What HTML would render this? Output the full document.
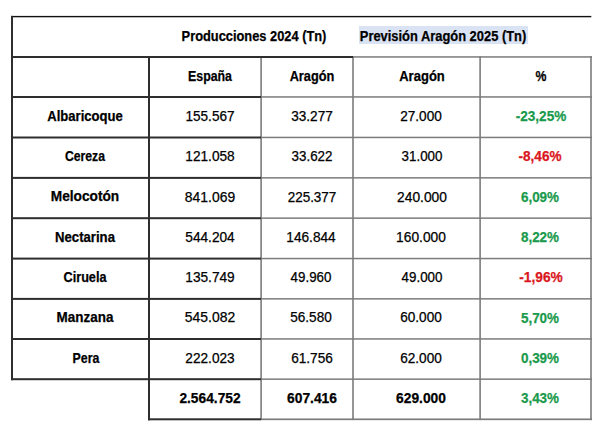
<!DOCTYPE html>
<html><head><meta charset="utf-8"><style>
html,body{margin:0;padding:0;background:#fff;}
#w{position:relative;width:600px;height:432px;overflow:hidden;background:#fff;font-family:"Liberation Sans",sans-serif;color:#000;}
svg{position:absolute;left:0;top:0;}
.t{position:absolute;width:300px;height:20px;line-height:20px;text-align:center;white-space:nowrap;-webkit-text-stroke:0.25px currentColor;transform-origin:50% 50%;}
</style></head><body><div id="w">
<svg width="600" height="432" viewBox="0 0 600 432">
<rect x="359" y="26" width="169" height="18" fill="#dae3f3"/>
<rect x="353" y="56.20" width="239.00" height="1.5" fill="#7c7c7c"/>
<rect x="261" y="96.20" width="331.00" height="1.5" fill="#7c7c7c"/>
<rect x="261" y="136.70" width="331.00" height="1.5" fill="#7c7c7c"/>
<rect x="261" y="177.10" width="331.00" height="1.5" fill="#7c7c7c"/>
<rect x="261" y="217.40" width="331.00" height="1.5" fill="#7c7c7c"/>
<rect x="261" y="257.80" width="331.00" height="1.5" fill="#7c7c7c"/>
<rect x="261" y="298.10" width="331.00" height="1.5" fill="#7c7c7c"/>
<rect x="261" y="338.20" width="331.00" height="1.5" fill="#7c7c7c"/>
<rect x="261" y="378.40" width="331.00" height="1.5" fill="#7c7c7c"/>
<rect x="261" y="418.45" width="331.00" height="1.7" fill="#7c7c7c"/>
<rect x="260.30" y="56.2" width="1.6" height="363.90" fill="#7c7c7c"/>
<rect x="352.20" y="56.2" width="1.6" height="363.90" fill="#7c7c7c"/>
<rect x="479.30" y="56.2" width="1.6" height="363.90" fill="#7c7c7c"/>
<rect x="590.20" y="56.2" width="1.6" height="363.90" fill="#7c7c7c"/>
<rect x="11" y="15.90" width="580.30" height="1.4" fill="#111"/>
<rect x="11.00" y="15.9" width="2" height="364.30" fill="#2e2e2e"/>
<rect x="11" y="56.00" width="342.00" height="2" fill="#2e2e2e"/>
<rect x="11" y="96.00" width="250.00" height="2" fill="#2e2e2e"/>
<rect x="11" y="136.50" width="250.00" height="2" fill="#2e2e2e"/>
<rect x="11" y="176.90" width="250.00" height="2" fill="#2e2e2e"/>
<rect x="11" y="217.20" width="250.00" height="2" fill="#2e2e2e"/>
<rect x="11" y="257.60" width="250.00" height="2" fill="#2e2e2e"/>
<rect x="11" y="297.90" width="250.00" height="2" fill="#2e2e2e"/>
<rect x="11" y="338.00" width="250.00" height="2" fill="#2e2e2e"/>
<rect x="11" y="378.20" width="250.00" height="2" fill="#2e2e2e"/>
<rect x="148" y="418.30" width="113.00" height="2" fill="#2e2e2e"/>
<rect x="148.00" y="56" width="2" height="364.30" fill="#2e2e2e"/>
</svg>
<div class="t" style="left:104.22px;top:26.15px;font-size:14.0px;font-weight:bold;transform:scaleX(0.9166);">Producciones 2024 (Tn)</div>
<div class="t" style="left:293.08px;top:25.75px;font-size:14.0px;font-weight:bold;transform:scaleX(0.9208);">Previsión Aragón 2025 (Tn)</div>
<div class="t" style="left:59.78px;top:65.85px;font-size:14.0px;font-weight:bold;transform:scaleX(0.8830);">España</div>
<div class="t" style="left:162.26px;top:65.85px;font-size:14.0px;font-weight:bold;transform:scaleX(0.9123);">Aragón</div>
<div class="t" style="left:271.56px;top:65.85px;font-size:14.0px;font-weight:bold;transform:scaleX(0.9299);">Aragón</div>
<div class="t" style="left:390.84px;top:65.85px;font-size:14.0px;font-weight:bold;transform:scaleX(0.8765);">%</div>
<div class="t" style="left:-65.10px;top:105.85px;font-size:14.0px;font-weight:bold;transform:scaleX(0.9322);">Albaricoque</div>
<div class="t" style="left:59.76px;top:105.98px;font-size:13.9px;transform:scaleX(0.9779);">155.567</div>
<div class="t" style="left:161.60px;top:105.98px;font-size:13.9px;transform:scaleX(0.9782);">33.277</div>
<div class="t" style="left:271.30px;top:105.98px;font-size:13.9px;transform:scaleX(0.9782);">27.000</div>
<div class="t" style="left:390.52px;top:106.08px;font-size:14.2px;font-weight:bold;color:#1a9a4c;transform:scaleX(0.9573);">-23,25%</div>
<div class="t" style="left:-65.34px;top:146.15px;font-size:14.0px;font-weight:bold;transform:scaleX(0.8708);">Cereza</div>
<div class="t" style="left:60.40px;top:146.28px;font-size:13.9px;transform:scaleX(0.9844);">121.058</div>
<div class="t" style="left:162.08px;top:146.28px;font-size:13.9px;transform:scaleX(0.9628);">33.622</div>
<div class="t" style="left:271.70px;top:146.28px;font-size:13.9px;transform:scaleX(0.9595);">31.000</div>
<div class="t" style="left:390.20px;top:146.38px;font-size:14.2px;font-weight:bold;color:#da1620;transform:scaleX(0.9567);">-8,46%</div>
<div class="t" style="left:-64.70px;top:186.45px;font-size:14.0px;font-weight:bold;transform:scaleX(0.9771);">Melocotón</div>
<div class="t" style="left:60.00px;top:186.58px;font-size:13.9px;transform:scaleX(1.0012);">841.069</div>
<div class="t" style="left:161.60px;top:186.58px;font-size:13.9px;transform:scaleX(0.9694);">225.377</div>
<div class="t" style="left:271.54px;top:186.58px;font-size:13.9px;transform:scaleX(0.9915);">240.000</div>
<div class="t" style="left:390.44px;top:186.68px;font-size:14.2px;font-weight:bold;color:#1a9a4c;transform:scaleX(0.9486);">6,09%</div>
<div class="t" style="left:-65.10px;top:226.75px;font-size:14.0px;font-weight:bold;transform:scaleX(0.9385);">Nectarina</div>
<div class="t" style="left:59.60px;top:226.88px;font-size:13.9px;transform:scaleX(0.9844);">544.204</div>
<div class="t" style="left:161.20px;top:226.88px;font-size:13.9px;transform:scaleX(0.9840);">146.844</div>
<div class="t" style="left:270.74px;top:226.88px;font-size:13.9px;transform:scaleX(0.9907);">160.000</div>
<div class="t" style="left:390.44px;top:226.98px;font-size:14.2px;font-weight:bold;color:#1a9a4c;transform:scaleX(0.9480);">8,22%</div>
<div class="t" style="left:-64.70px;top:267.05px;font-size:14.0px;font-weight:bold;transform:scaleX(0.9030);">Ciruela</div>
<div class="t" style="left:60.40px;top:267.18px;font-size:13.9px;transform:scaleX(0.9844);">135.749</div>
<div class="t" style="left:161.20px;top:267.18px;font-size:13.9px;transform:scaleX(0.9595);">49.960</div>
<div class="t" style="left:271.70px;top:267.18px;font-size:13.9px;transform:scaleX(0.9595);">49.000</div>
<div class="t" style="left:390.60px;top:267.28px;font-size:14.2px;font-weight:bold;color:#da1620;transform:scaleX(0.9677);">-1,96%</div>
<div class="t" style="left:-65.10px;top:307.35px;font-size:14.0px;font-weight:bold;transform:scaleX(0.9600);">Manzana</div>
<div class="t" style="left:60.00px;top:307.48px;font-size:13.9px;transform:scaleX(1.0012);">545.082</div>
<div class="t" style="left:160.80px;top:307.48px;font-size:13.9px;transform:scaleX(0.9782);">56.580</div>
<div class="t" style="left:271.30px;top:307.48px;font-size:13.9px;transform:scaleX(0.9782);">60.000</div>
<div class="t" style="left:390.44px;top:307.58px;font-size:14.2px;font-weight:bold;color:#1a9a4c;transform:scaleX(0.9486);">5,70%</div>
<div class="t" style="left:-64.46px;top:347.65px;font-size:14.0px;font-weight:bold;transform:scaleX(0.8820);">Pera</div>
<div class="t" style="left:60.00px;top:347.78px;font-size:13.9px;transform:scaleX(0.9816);">222.023</div>
<div class="t" style="left:161.68px;top:347.78px;font-size:13.9px;transform:scaleX(0.9814);">61.756</div>
<div class="t" style="left:271.30px;top:347.78px;font-size:13.9px;transform:scaleX(0.9782);">62.000</div>
<div class="t" style="left:390.44px;top:347.88px;font-size:14.2px;font-weight:bold;color:#1a9a4c;transform:scaleX(0.9486);">0,39%</div>
<div class="t" style="left:60.04px;top:388.05px;font-size:14.0px;font-weight:bold;transform:scaleX(0.9822);">2.564.752</div>
<div class="t" style="left:161.78px;top:388.05px;font-size:14.0px;font-weight:bold;transform:scaleX(0.9843);">607.416</div>
<div class="t" style="left:270.90px;top:388.05px;font-size:14.0px;font-weight:bold;transform:scaleX(0.9843);">629.000</div>
<div class="t" style="left:390.44px;top:388.18px;font-size:14.2px;font-weight:bold;color:#1a9a4c;transform:scaleX(0.9486);">3,43%</div>
</div></body></html>
